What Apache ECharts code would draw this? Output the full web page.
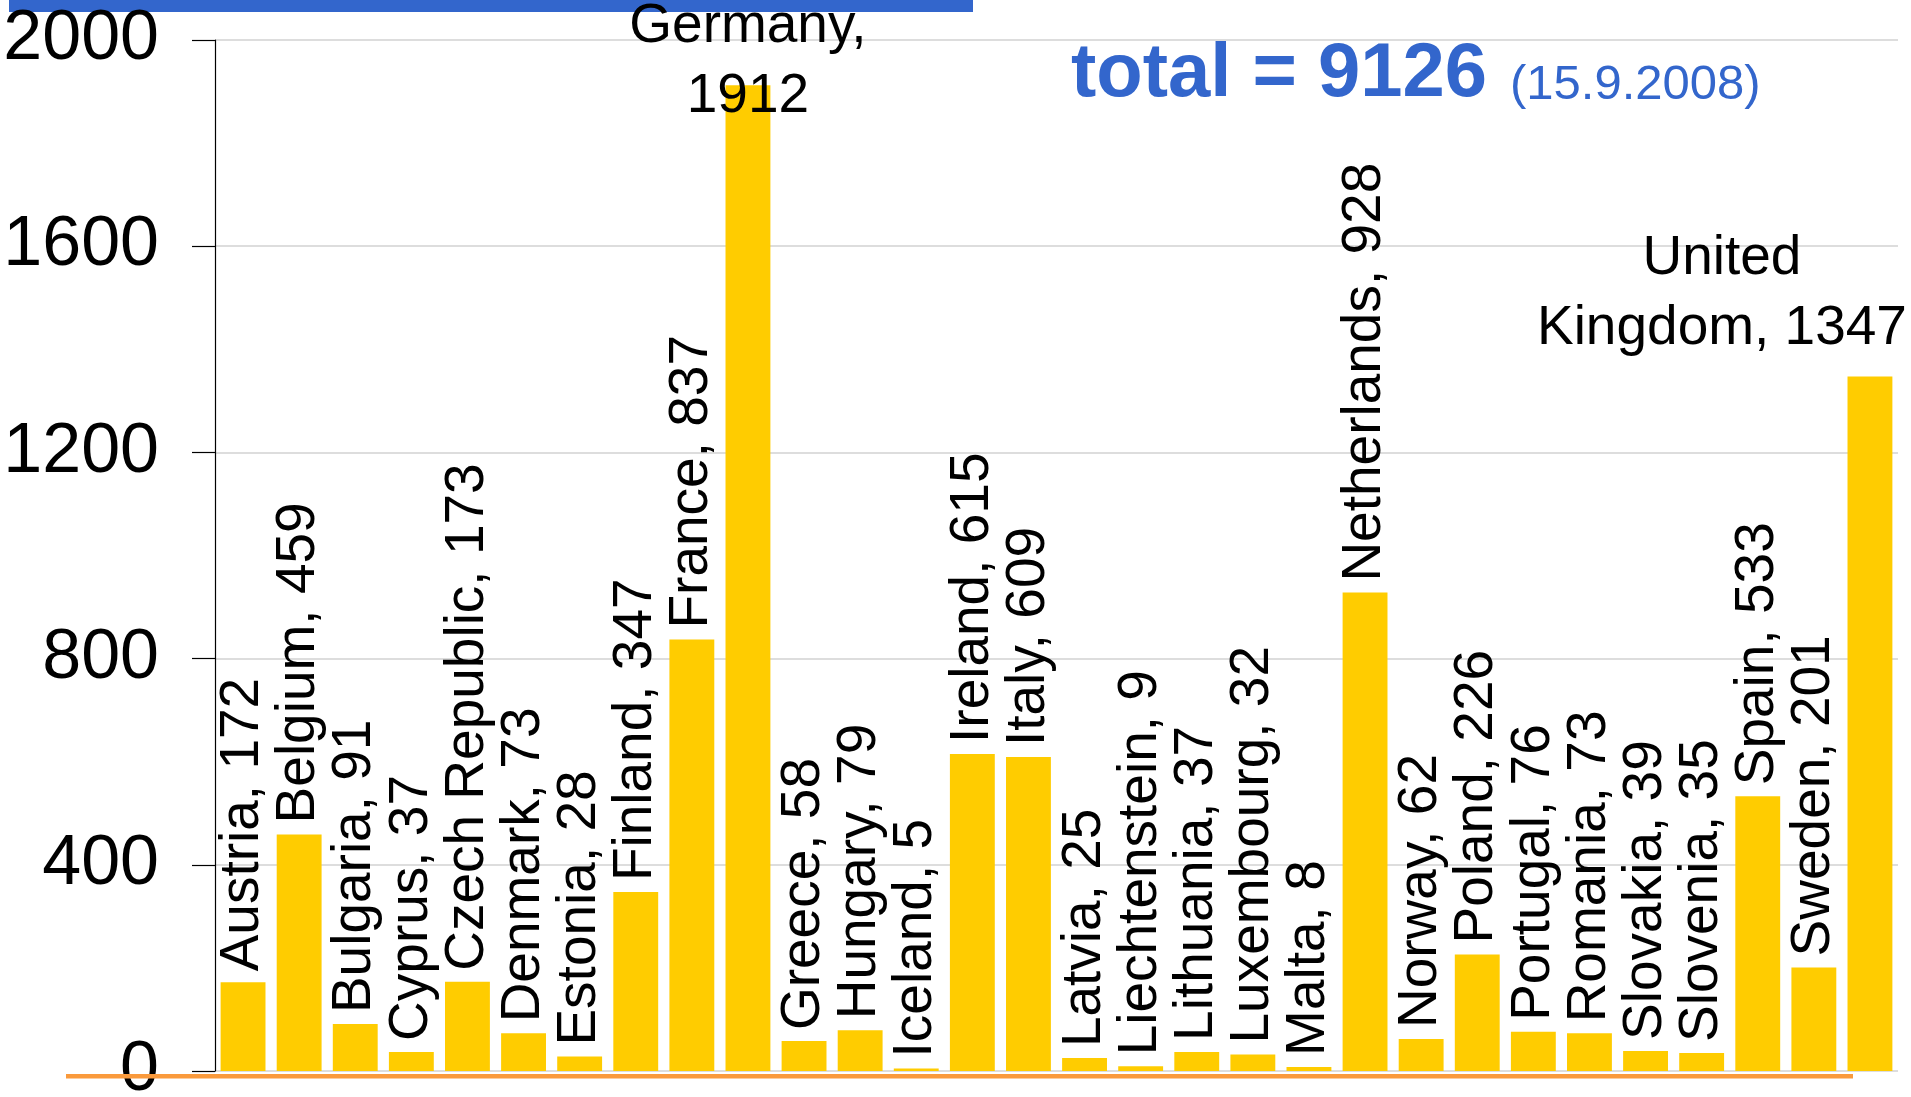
<!DOCTYPE html>
<html>
<head>
<meta charset="utf-8">
<script src="https://cdn.jsdelivr.net/npm/echarts@6/dist/echarts.min.js"></script>
<style>
html,body{margin:0;padding:0;background:#fff;}
#chart{width:1911px;height:1097px;}
</style>
</head>
<body>
<div id="chart"></div>
<script>
var categories = ['Austria','Belgium','Bulgaria','Cyprus','Czech Republic','Denmark','Estonia','Finland','France','Germany','Greece','Hungary','Iceland','Ireland','Italy','Latvia','Liechtenstein','Lithuania','Luxembourg','Malta','Netherlands','Norway','Poland','Portugal','Romania','Slovakia','Slovenia','Spain','Sweden','United Kingdom'];
var values = [172,459,91,37,173,73,28,347,837,1912,58,79,5,615,609,25,9,37,32,8,928,62,226,76,73,39,35,533,201,1347];
var yTicks = [0,400,800,1200,1600,2000];
var totalText = 'total = 9126';
var dateText = '(15.9.2008)';

var FONT = '"Liberation Sans", Arial, sans-serif';

var seriesData = values.map(function (v, i) {
  var item = { value: v };
  if (categories[i] === 'Germany') {
    item.label = {
      rotate: 0, align: 'center', verticalAlign: 'bottom',
      lineHeight: 70, offset: [0, 57],
      formatter: 'Germany,\n{c}'
    };
  } else if (categories[i] === 'United Kingdom') {
    item.label = {
      rotate: 0, align: 'center', verticalAlign: 'bottom',
      lineHeight: 70, offset: [-148, -2],
      formatter: 'United\nKingdom, {c}'
    };
  }
  return item;
});

var chart = echarts.init(document.getElementById('chart'), null, { renderer: 'canvas' });
chart.setOption({
  animation: false,
  backgroundColor: '#ffffff',
  grid: { left: 215, right: 13, top: 40, bottom: 26, containLabel: false, outerBoundsMode: 'none' },
  xAxis: {
    type: 'category',
    data: categories,
    axisLine: { show: false },
    axisTick: { show: false },
    axisLabel: { show: false },
    splitLine: { show: false }
  },
  yAxis: {
    type: 'value',
    min: yTicks[0],
    max: yTicks[yTicks.length - 1],
    interval: 400,
    axisLine: { show: true, lineStyle: { color: '#000', width: 1.2 } },
    axisTick: { show: true, inside: false, length: 23, lineStyle: { color: '#000', width: 1.2 } },
    axisLabel: { color: '#000', fontSize: 70, fontFamily: FONT, margin: 56, formatter: function (v) { return String(v); } },
    splitLine: { show: true, lineStyle: { color: '#D2D2D2', width: 1.5 } }
  },
  series: [{
    type: 'bar',
    data: seriesData,
    barCategoryGap: '20%',
    itemStyle: { color: '#FFCC00' },
    label: {
      show: true,
      position: 'top',
      distance: 11,
      rotate: 90,
      align: 'left',
      verticalAlign: 'middle',
      color: '#000',
      fontSize: 55,
      fontFamily: FONT,
      formatter: '{b}, {c}'
    }
  }],
  graphic: [
    { type: 'rect', shape: { x: 9, y: 0, width: 964, height: 12 }, style: { fill: '#3366CC' }, silent: true },
    { type: 'rect', shape: { x: 66, y: 1074, width: 1787, height: 4.5 }, style: { fill: '#FA9A3C' }, silent: true, z: 100 },
    { type: 'text', x: 1071, y: 75, style: { text: totalText, font: 'bold 76px ' + FONT, fill: '#3366CC', align: 'left', verticalAlign: 'middle' }, silent: true },
    { type: 'text', x: 1510, y: 85, style: { text: dateText, font: '49px ' + FONT, fill: '#3366CC', align: 'left', verticalAlign: 'middle' }, silent: true }
  ]
});
</script>
</body>
</html>
